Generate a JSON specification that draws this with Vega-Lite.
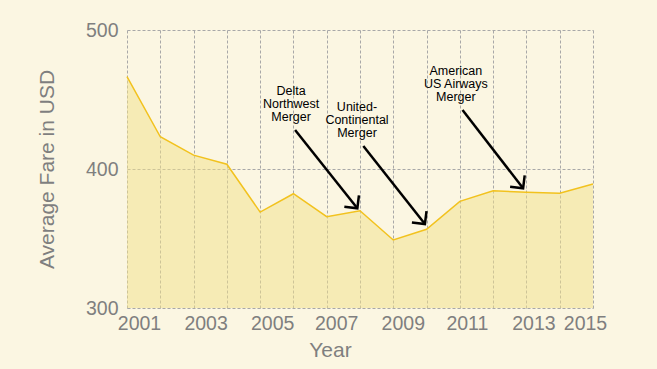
{
  "$schema": "https://vega.github.io/schema/vega-lite/v6.json",
  "width": 466,
  "height": 278,
  "autosize": "none",
  "padding": {"left": 127, "top": 30, "right": 64, "bottom": 61},
  "background": "#FBF6E2",
  "config": {
    "view": {"stroke": null},
    "font": "Liberation Sans",
    "axis": {
      "labelFont": "Liberation Sans",
      "titleFont": "Liberation Sans",
      "labelColor": "#7F7F7F",
      "titleColor": "#7F7F7F",
      "labelFontSize": 19.5,
      "titleFontSize": 21,
      "titleFontWeight": "normal",
      "gridColor": "#A8A8A8",
      "gridDash": [3, 2],
      "gridWidth": 1,
      "domain": false,
      "ticks": false
    }
  },
  "datasets": {
    "fares": [
      {"year": 2001, "fare": 466.4},
      {"year": 2002, "fare": 423.2},
      {"year": 2003, "fare": 410.0},
      {"year": 2004, "fare": 403.4},
      {"year": 2005, "fare": 369.0},
      {"year": 2006, "fare": 382.2},
      {"year": 2007, "fare": 365.7},
      {"year": 2008, "fare": 370.0},
      {"year": 2009, "fare": 348.9},
      {"year": 2010, "fare": 356.6},
      {"year": 2011, "fare": 376.7},
      {"year": 2012, "fare": 384.4},
      {"year": 2013, "fare": 383.2},
      {"year": 2014, "fare": 382.5},
      {"year": 2015, "fare": 389.2}
    ],
    "notes": [
      {"label": "Delta\nNorthwest\nMerger", "tx": 2005.93, "ty": 456.3, "x1": 2006.05, "y1": 428.0, "x2": 2007.92, "y2": 371.7},
      {"label": "United-\nContinental\nMerger", "tx": 2007.91, "ty": 444.8, "x1": 2008.1, "y1": 416.5, "x2": 2009.95, "y2": 360.4},
      {"label": "American\nUS Airways\nMerger", "tx": 2010.88, "ty": 470.7, "x1": 2011.08, "y1": 442.4, "x2": 2012.9, "y2": 386.1}
    ]
  },
  "layer": [
    {
      "data": {"name": "fares"},
      "mark": {"type": "area", "color": "#F1E088", "opacity": 0.5, "line": {"color": "#F2C21E", "strokeWidth": 1.5, "opacity": 1}},
      "encoding": {
        "x": {
          "field": "year", "type": "quantitative",
          "scale": {"domain": [2001, 2015], "nice": false, "zero": false},
          "axis": {
            "title": "Year",
            "tickCount": 30,
            "values": [2001, 2002, 2003, 2004, 2005, 2006, 2007, 2008, 2009, 2010, 2011, 2012, 2013, 2014, 2015],
            "format": "d",
            "labelOpacity": {"condition": {"test": "datum.value % 2 == 0", "value": 0}, "value": 1},
            "labelOverlap": false,
            "labelFlush": false,
            "labelPadding": 6,
            "labelOffset": {"condition": [
              {"test": "datum.value == 2015", "value": -8},
              {"test": "datum.value >= 2011", "value": 7},
              {"test": "datum.value >= 2007", "value": 9.5}
            ], "value": 12},
            "titleX": 203,
            "titleY": 42,
            "titleBaseline": "middle",
            "titleAlign": "center"
          }
        },
        "y": {
          "field": "fare", "type": "quantitative",
          "scale": {"domain": [300, 500], "nice": false, "zero": false},
          "axis": {
            "title": "Average Fare in USD",
            "values": [300, 400, 500],
            "labelPadding": 9,
            "titleX": -80,
            "titleY": 139,
            "titleAngle": 270,
            "titleBaseline": "middle",
            "titleAlign": "center"
          }
        },
        "y2": {"datum": 300}
      }
    },
    {
      "data": {"name": "notes"},
      "mark": {"type": "rule", "color": "black", "strokeWidth": 2.5},
      "encoding": {
        "x": {"field": "x1", "type": "quantitative"},
        "y": {"field": "y1", "type": "quantitative"},
        "x2": {"field": "x2"},
        "y2": {"field": "y2"}
      }
    },
    {
      "data": {"name": "notes"},
      "mark": {"type": "point", "shape": "M -0.7 0.7 L 0 0 L 0.7 0.7", "filled": false, "stroke": "black", "strokeWidth": 2.5, "size": 700, "angle": 142, "opacity": 1},
      "encoding": {
        "x": {"field": "x2", "type": "quantitative"},
        "y": {"field": "y2", "type": "quantitative"}
      }
    },
    {
      "data": {"name": "notes"},
      "mark": {"type": "text", "lineBreak": "\n", "fontSize": 12.5, "lineHeight": 13, "color": "black", "align": "center", "baseline": "middle", "font": "Liberation Sans"},
      "encoding": {
        "x": {"field": "tx", "type": "quantitative"},
        "y": {"field": "ty", "type": "quantitative"},
        "text": {"field": "label"}
      }
    }
  ]
}
